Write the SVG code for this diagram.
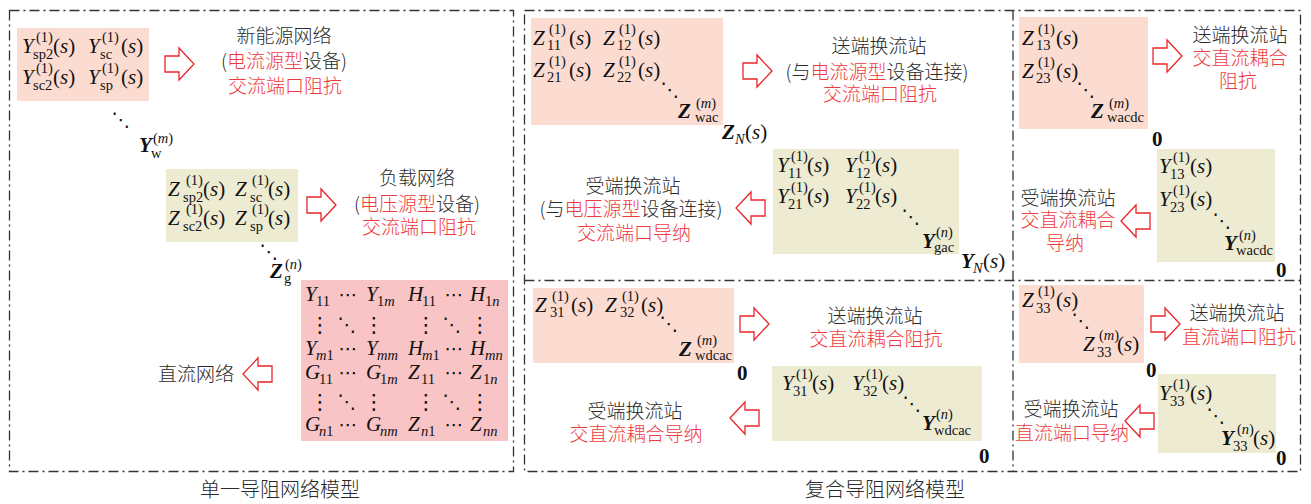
<svg xmlns="http://www.w3.org/2000/svg" width="1311" height="504" viewBox="0 0 1311 504">
<style>
.bg{fill:#fff}
.frame{fill:none;stroke:#333;stroke-width:1.3;stroke-dasharray:10 4 2 4}
.pk{fill:#FCDCD1}
.ol{fill:#EDEBD2}
.pk2{fill:#F8C4C6}
.arr{fill:#fff;stroke:#E8262B;stroke-width:1.3}
.m{font-family:"Liberation Serif","DejaVu Serif",serif;font-size:21px;fill:#111}
.i{font-style:italic}
.b{font-style:italic;font-weight:bold}
.z{font-weight:bold}
.s{font-size:14.5px}
.dt{font-family:"DejaVu Sans",sans-serif;fill:#111;text-anchor:middle}
.dd{font-size:19px}
.vd{font-size:21px}
.cd{font-size:19px}
.cn{font-family:"Noto Sans CJK SC","Noto Sans",sans-serif;font-size:19px;font-weight:300;fill:#2a2a2a;text-anchor:middle}
.r{fill:#EE3B3E}
.t{font-size:20px}
</style>
<defs>
<path id="ar" d="M0,8 H14 V0 L29,16 L14,32 V24 H0 Z"/>
<path id="al" d="M29,8 H15 V0 L0,16 L15,32 V24 H29 Z"/>
</defs>
<rect class="bg" x="0" y="0" width="1311" height="504"/>

<g id="frames">
<rect class="frame" x="9.5" y="10.5" width="504" height="461"/>
<rect class="frame" x="524.5" y="10.5" width="776" height="461"/>
<line class="frame" x1="1013" y1="10.5" x2="1013" y2="471.5"/>
<line class="frame" x1="524.5" y1="280.5" x2="1300.5" y2="280.5"/>
</g>

<g id="connectors">
<use href="#ar" class="arr" x="165" y="48"/>
<use href="#ar" class="arr" x="307" y="189"/>
<use href="#al" class="arr" x="243" y="358"/>
<use href="#ar" class="arr" x="743" y="55"/>
<use href="#al" class="arr" x="736" y="192"/>
<use href="#ar" class="arr" x="740" y="308"/>
<use href="#al" class="arr" x="730" y="402"/>
<use href="#ar" class="arr" x="1153" y="40"/>
<use href="#al" class="arr" x="1121" y="205"/>
<use href="#ar" class="arr" x="1151" y="308"/>
<use href="#al" class="arr" x="1125" y="405"/>
</g>

<!-- Left panel -->
<g id="new-energy-matrix">
<rect class="pk" x="17" y="28" width="132" height="73"/>
<text class="m"><tspan class="i" x="22" y="53">Y</tspan><tspan class="s" x="36" y="42">(1)</tspan><tspan class="s" x="33" y="59">sp2</tspan><tspan x="53" y="53">(<tspan class="i">s</tspan>)</tspan></text>
<text class="m"><tspan class="i" x="88" y="53">Y</tspan><tspan class="s" x="102" y="42">(1)</tspan><tspan class="s" x="100" y="59">sc</tspan><tspan x="121" y="53">(<tspan class="i">s</tspan>)</tspan></text>
<text class="m"><tspan class="i" x="22" y="84">Y</tspan><tspan class="s" x="36" y="73">(1)</tspan><tspan class="s" x="33" y="90">sc2</tspan><tspan x="53" y="84">(<tspan class="i">s</tspan>)</tspan></text>
<text class="m"><tspan class="i" x="88" y="84">Y</tspan><tspan class="s" x="102" y="73">(1)</tspan><tspan class="s" x="100" y="90">sp</tspan><tspan x="121" y="84">(<tspan class="i">s</tspan>)</tspan></text>
</g>
<g id="new-energy-label">
<text class="cn" x="284" y="43">新能源网络</text>
<text class="cn" x="284" y="68">(<tspan class="r">电流源型</tspan>设备)</text>
<text class="cn r" x="285" y="93">交流端口阻抗</text>
</g>
<g id="yw-diag">
<text class="dt dd" x="121" y="126">⋱</text>
<text class="m"><tspan class="b" x="139" y="152">Y</tspan><tspan class="s" x="153" y="143">(<tspan class="i">m</tspan>)</tspan><tspan class="s" x="151" y="158">w</tspan></text>
</g>

<g id="load-matrix">
<rect class="ol" x="166" y="169" width="132" height="73"/>
<text class="m"><tspan class="i" x="168" y="196">Z</tspan><tspan class="s" x="186" y="185">(1)</tspan><tspan class="s" x="183" y="202">sp2</tspan><tspan x="203" y="196">(<tspan class="i">s</tspan>)</tspan></text>
<text class="m"><tspan class="i" x="235" y="196">Z</tspan><tspan class="s" x="252" y="185">(1)</tspan><tspan class="s" x="250" y="202">sc</tspan><tspan x="268" y="196">(<tspan class="i">s</tspan>)</tspan></text>
<text class="m"><tspan class="i" x="168" y="225">Z</tspan><tspan class="s" x="186" y="214">(1)</tspan><tspan class="s" x="183" y="231">sc2</tspan><tspan x="203" y="225">(<tspan class="i">s</tspan>)</tspan></text>
<text class="m"><tspan class="i" x="235" y="225">Z</tspan><tspan class="s" x="252" y="214">(1)</tspan><tspan class="s" x="250" y="231">sp</tspan><tspan x="268" y="225">(<tspan class="i">s</tspan>)</tspan></text>
</g>
<g id="load-label">
<text class="cn" x="417" y="185">负载网络</text>
<text class="cn" x="417" y="211">(<tspan class="r">电压源型</tspan>设备)</text>
<text class="cn r" x="419" y="234">交流端口阻抗</text>
</g>
<g id="zg-diag">
<text class="dt dd" x="269" y="258">⋱</text>
<text class="m"><tspan class="b" x="270" y="278">Z</tspan><tspan class="s" x="285" y="269">(<tspan class="i">n</tspan>)</tspan><tspan class="s" x="284" y="283">g</tspan></text>
</g>

<g id="dc-matrix">
<rect class="pk2" x="301" y="280" width="207" height="161"/>
<text class="m"><tspan class="i" x="305" y="301">Y</tspan><tspan class="s" x="316" y="306">11</tspan><tspan class="i" x="366" y="301">Y</tspan><tspan class="s" x="377" y="306">1<tspan class="i">m</tspan></tspan><tspan class="i" x="408" y="301">H</tspan><tspan class="s" x="422" y="306">11</tspan><tspan class="i" x="470" y="301">H</tspan><tspan class="s" x="485" y="306">1<tspan class="i">n</tspan></tspan></text>
<text class="dt cd" x="348" y="301">⋯</text><text class="dt cd" x="454" y="301">⋯</text>
<text class="dt vd" x="320" y="332">⋮</text><text class="dt dd" x="347" y="331">⋱</text><text class="dt vd" x="374" y="332">⋮</text>
<text class="dt vd" x="426" y="332">⋮</text><text class="dt dd" x="452" y="331">⋱</text><text class="dt vd" x="480" y="332">⋮</text>
<text class="m"><tspan class="i" x="305" y="355">Y</tspan><tspan class="s i" x="316" y="360">m</tspan><tspan class="s">1</tspan><tspan class="i" x="366" y="355">Y</tspan><tspan class="s i" x="377" y="360">mm</tspan><tspan class="i" x="408" y="355">H</tspan><tspan class="s i" x="422" y="360">m</tspan><tspan class="s">1</tspan><tspan class="i" x="470" y="355">H</tspan><tspan class="s i" x="485" y="360">mn</tspan></text>
<text class="dt cd" x="348" y="355">⋯</text><text class="dt cd" x="454" y="355">⋯</text>
<text class="m"><tspan class="i" x="305" y="379">G</tspan><tspan class="s" x="319" y="384">11</tspan><tspan class="i" x="366" y="379">G</tspan><tspan class="s" x="380" y="384">1<tspan class="i">m</tspan></tspan><tspan class="i" x="408" y="379">Z</tspan><tspan class="s" x="421" y="384">11</tspan><tspan class="i" x="470" y="379">Z</tspan><tspan class="s" x="483" y="384">1<tspan class="i">n</tspan></tspan></text>
<text class="dt cd" x="348" y="379">⋯</text><text class="dt cd" x="454" y="379">⋯</text>
<text class="dt vd" x="320" y="409">⋮</text><text class="dt dd" x="347" y="408">⋱</text><text class="dt vd" x="374" y="409">⋮</text>
<text class="dt vd" x="426" y="409">⋮</text><text class="dt dd" x="452" y="408">⋱</text><text class="dt vd" x="480" y="409">⋮</text>
<text class="m"><tspan class="i" x="305" y="431">G</tspan><tspan class="s i" x="319" y="436">n</tspan><tspan class="s">1</tspan><tspan class="i" x="366" y="431">G</tspan><tspan class="s i" x="380" y="436">nm</tspan><tspan class="i" x="408" y="431">Z</tspan><tspan class="s i" x="421" y="436">n</tspan><tspan class="s">1</tspan><tspan class="i" x="470" y="431">Z</tspan><tspan class="s i" x="483" y="436">nn</tspan></text>
<text class="dt cd" x="348" y="431">⋯</text><text class="dt cd" x="454" y="431">⋯</text>
</g>
<g id="dc-label">
<text class="cn" x="196" y="381">直流网络</text>
</g>
<text class="cn t" x="280" y="497">单一导阻网络模型</text>

<!-- Middle panel top -->
<g id="zwac-matrix">
<rect class="pk" x="531" y="18" width="192" height="107"/>
<text class="m"><tspan class="i" x="533" y="45">Z</tspan><tspan class="s" x="549" y="34">(1)</tspan><tspan class="s" x="547" y="50">11</tspan><tspan x="569" y="45">(<tspan class="i">s</tspan>)</tspan></text>
<text class="m"><tspan class="i" x="603" y="45">Z</tspan><tspan class="s" x="619" y="34">(1)</tspan><tspan class="s" x="617" y="50">12</tspan><tspan x="638" y="45">(<tspan class="i">s</tspan>)</tspan></text>
<text class="m"><tspan class="i" x="533" y="77">Z</tspan><tspan class="s" x="549" y="66">(1)</tspan><tspan class="s" x="547" y="82">21</tspan><tspan x="569" y="77">(<tspan class="i">s</tspan>)</tspan></text>
<text class="m"><tspan class="i" x="603" y="77">Z</tspan><tspan class="s" x="619" y="66">(1)</tspan><tspan class="s" x="617" y="82">22</tspan><tspan x="638" y="77">(<tspan class="i">s</tspan>)</tspan></text>
<text class="dt dd" x="670" y="96">⋱</text>
<text class="m"><tspan class="b" x="678" y="118">Z</tspan><tspan class="s" x="696" y="108">(<tspan class="i">m</tspan>)</tspan><tspan class="s" x="695" y="122">wac</tspan></text>
</g>
<g id="zn-label">
<text class="m"><tspan class="b" x="722" y="139">Z</tspan><tspan class="s i" x="735" y="144">N</tspan><tspan x="745" y="139">(<tspan class="i">s</tspan>)</tspan></text>
</g>
<g id="send-ac-label">
<text class="cn" x="879" y="53">送端换流站</text>
<text class="cn" x="877" y="79">(与<tspan class="r">电流源型</tspan>设备连接)</text>
<text class="cn r" x="880" y="101">交流端口阻抗</text>
</g>
<g id="ygac-matrix">
<rect class="ol" x="773" y="149" width="186" height="105"/>
<text class="m"><tspan class="i" x="777" y="172">Y</tspan><tspan class="s" x="791" y="161">(1)</tspan><tspan class="s" x="788" y="178">11</tspan><tspan x="807" y="172">(<tspan class="i">s</tspan>)</tspan></text>
<text class="m"><tspan class="i" x="845" y="172">Y</tspan><tspan class="s" x="859" y="161">(1)</tspan><tspan class="s" x="856" y="178">12</tspan><tspan x="875" y="172">(<tspan class="i">s</tspan>)</tspan></text>
<text class="m"><tspan class="i" x="777" y="203">Y</tspan><tspan class="s" x="791" y="192">(1)</tspan><tspan class="s" x="788" y="209">21</tspan><tspan x="807" y="203">(<tspan class="i">s</tspan>)</tspan></text>
<text class="m"><tspan class="i" x="845" y="203">Y</tspan><tspan class="s" x="859" y="192">(1)</tspan><tspan class="s" x="856" y="209">22</tspan><tspan x="875" y="203">(<tspan class="i">s</tspan>)</tspan></text>
<text class="dt dd" x="911" y="223">⋱</text>
<text class="m"><tspan class="b" x="922" y="248">Y</tspan><tspan class="s" x="936" y="237">(<tspan class="i">n</tspan>)</tspan><tspan class="s" x="934" y="252">gac</tspan></text>
</g>
<g id="yn-label">
<text class="m"><tspan class="b" x="961" y="268">Y</tspan><tspan class="s i" x="973" y="273">N</tspan><tspan x="983" y="268">(<tspan class="i">s</tspan>)</tspan></text>
</g>
<g id="recv-ac-label">
<text class="cn" x="633" y="193">受端换流站</text>
<text class="cn" x="631" y="216">(与<tspan class="r">电压源型</tspan>设备连接)</text>
<text class="cn r" x="634" y="240">交流端口导纳</text>
</g>

<!-- Middle panel bottom -->
<g id="zwdcac-matrix">
<rect class="pk" x="533" y="288" width="201" height="75"/>
<text class="m"><tspan class="i" x="535" y="312">Z</tspan><tspan class="s" x="552" y="301">(1)</tspan><tspan class="s" x="550" y="317">31</tspan><tspan x="571" y="312">(<tspan class="i">s</tspan>)</tspan></text>
<text class="m"><tspan class="i" x="605" y="312">Z</tspan><tspan class="s" x="622" y="301">(1)</tspan><tspan class="s" x="620" y="317">32</tspan><tspan x="641" y="312">(<tspan class="i">s</tspan>)</tspan></text>
<text class="dt dd" x="669" y="330">⋱</text>
<text class="m"><tspan class="b" x="679" y="356">Z</tspan><tspan class="s" x="697" y="345">(<tspan class="i">m</tspan>)</tspan><tspan class="s" x="695" y="360">wdcac</tspan></text>
<text class="m z" x="737" y="380">0</text>
</g>
<g id="send-acdc-label">
<text class="cn" x="875" y="323">送端换流站</text>
<text class="cn r" x="876" y="346">交直流耦合阻抗</text>
</g>
<g id="ywdcac-matrix">
<rect class="ol" x="772" y="366" width="210" height="75"/>
<text class="m"><tspan class="i" x="782" y="390">Y</tspan><tspan class="s" x="796" y="379">(1)</tspan><tspan class="s" x="793" y="396">31</tspan><tspan x="812" y="390">(<tspan class="i">s</tspan>)</tspan></text>
<text class="m"><tspan class="i" x="852" y="390">Y</tspan><tspan class="s" x="866" y="379">(1)</tspan><tspan class="s" x="863" y="396">32</tspan><tspan x="882" y="390">(<tspan class="i">s</tspan>)</tspan></text>
<text class="dt dd" x="912" y="410">⋱</text>
<text class="m"><tspan class="b" x="922" y="430">Y</tspan><tspan class="s" x="936" y="419">(<tspan class="i">n</tspan>)</tspan><tspan class="s" x="934" y="435">wdcac</tspan></text>
<text class="m z" x="979" y="463">0</text>
</g>
<g id="recv-acdc-label">
<text class="cn" x="635" y="418">受端换流站</text>
<text class="cn r" x="636" y="441">交直流耦合导纳</text>
</g>
<text class="cn t" x="885" y="497">复合导阻网络模型</text>

<!-- Right panel top -->
<g id="zwacdc-matrix">
<rect class="pk" x="1019" y="17" width="129" height="112"/>
<text class="m"><tspan class="i" x="1022" y="45">Z</tspan><tspan class="s" x="1038" y="34">(1)</tspan><tspan class="s" x="1036" y="50">13</tspan><tspan x="1056" y="45">(<tspan class="i">s</tspan>)</tspan></text>
<text class="m"><tspan class="i" x="1022" y="78">Z</tspan><tspan class="s" x="1038" y="67">(1)</tspan><tspan class="s" x="1036" y="83">23</tspan><tspan x="1056" y="78">(<tspan class="i">s</tspan>)</tspan></text>
<text class="dt dd" x="1086" y="96">⋱</text>
<text class="m"><tspan class="b" x="1091" y="118">Z</tspan><tspan class="s" x="1109" y="108">(<tspan class="i">m</tspan>)</tspan><tspan class="s" x="1107" y="122">wacdc</tspan></text>
<text class="m z" x="1152" y="146">0</text>
</g>
<g id="send-acdc2-label">
<text class="cn" x="1240" y="42">送端换流站</text>
<text class="cn r" x="1240" y="65">交直流耦合</text>
<text class="cn r" x="1238" y="88">阻抗</text>
</g>
<g id="ywacdc-matrix">
<rect class="ol" x="1157" y="149" width="118" height="113"/>
<text class="m"><tspan class="i" x="1159" y="173">Y</tspan><tspan class="s" x="1173" y="162">(1)</tspan><tspan class="s" x="1170" y="179">13</tspan><tspan x="1190" y="173">(<tspan class="i">s</tspan>)</tspan></text>
<text class="m"><tspan class="i" x="1159" y="206">Y</tspan><tspan class="s" x="1173" y="195">(1)</tspan><tspan class="s" x="1170" y="212">23</tspan><tspan x="1190" y="206">(<tspan class="i">s</tspan>)</tspan></text>
<text class="dt dd" x="1222" y="227">⋱</text>
<text class="m"><tspan class="b" x="1224" y="250">Y</tspan><tspan class="s" x="1239" y="240">(<tspan class="i">n</tspan>)</tspan><tspan class="s" x="1236" y="255">wacdc</tspan></text>
<text class="m z" x="1276" y="277">0</text>
</g>
<g id="recv-acdc2-label">
<text class="cn" x="1068" y="205">受端换流站</text>
<text class="cn r" x="1068" y="227">交直流耦合</text>
<text class="cn r" x="1065" y="250">导纳</text>
</g>

<!-- Right panel bottom -->
<g id="z33-matrix">
<rect class="pk" x="1019" y="285" width="125" height="78"/>
<text class="m"><tspan class="i" x="1022" y="307">Z</tspan><tspan class="s" x="1038" y="296">(1)</tspan><tspan class="s" x="1036" y="313">33</tspan><tspan x="1056" y="307">(<tspan class="i">s</tspan>)</tspan></text>
<text class="dt dd" x="1081" y="327">⋱</text>
<text class="m"><tspan class="i" x="1083" y="351">Z</tspan><tspan class="s" x="1099" y="340">(<tspan class="i">m</tspan>)</tspan><tspan class="s" x="1097" y="357">33</tspan><tspan x="1117" y="351">(<tspan class="i">s</tspan>)</tspan></text>
<text class="m z" x="1146" y="377">0</text>
</g>
<g id="send-dc-label">
<text class="cn" x="1237" y="320">送端换流站</text>
<text class="cn r" x="1239" y="344">直流端口阻抗</text>
</g>
<g id="y33-matrix">
<rect class="ol" x="1158" y="374" width="118" height="79"/>
<text class="m"><tspan class="i" x="1159" y="400">Y</tspan><tspan class="s" x="1173" y="389">(1)</tspan><tspan class="s" x="1170" y="406">33</tspan><tspan x="1190" y="400">(<tspan class="i">s</tspan>)</tspan></text>
<text class="dt dd" x="1216" y="422">⋱</text>
<text class="m"><tspan class="b" x="1221" y="445">Y</tspan><tspan class="s" x="1237" y="434">(<tspan class="i">n</tspan>)</tspan><tspan class="s" x="1233" y="451">33</tspan><tspan x="1253" y="445">(<tspan class="i">s</tspan>)</tspan></text>
<text class="m z" x="1276" y="465">0</text>
</g>
<g id="recv-dc-label">
<text class="cn" x="1071" y="416">受端换流站</text>
<text class="cn r" x="1072" y="440">直流端口导纳</text>
</g>
</svg>
